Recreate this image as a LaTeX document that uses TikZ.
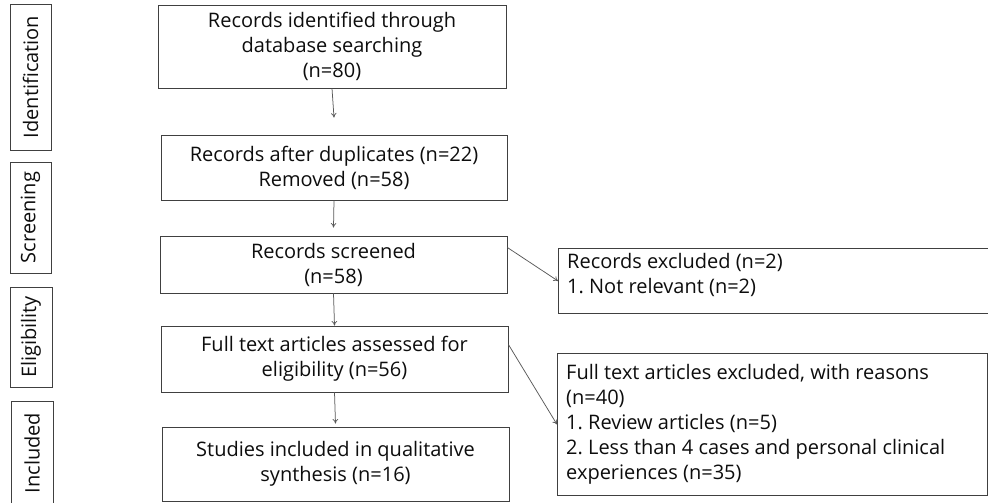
\documentclass[tikz,border=0pt]{standalone}
\usepackage{fontspec}
\setmainfont{Open Sans}
\frenchspacing
\usetikzlibrary{arrows.meta}
\begin{document}
\begin{tikzpicture}[x=1pt,y=-1pt,
  txt/.style={font=\fontsize{20}{25}\selectfont,text=black!95},
  box/.style={txt,draw=black!75,line width=0.9pt,inner sep=0pt,align=center},
  rbox/.style={draw=black!75,line width=0.9pt,inner sep=0pt,anchor=north west},
  rtxt/.style={txt,anchor=north west,align=left,inner sep=0pt},
  lab/.style={txt,draw=black!75,line width=0.9pt,inner sep=0pt,rotate=90},
  arr/.style={draw=black!65,line width=0.75pt,-{To[length=4.5pt,width=5.5pt]}}]
\useasboundingbox (0,0) rectangle (988,503);
% left stage labels
\node[lab,minimum width=146pt,minimum height=41pt] (lid) at (30.5,77) {Identification};
\node[lab,minimum width=111pt,minimum height=41pt] (lsc) at (30.5,217.5) {Screening};
\node[lab,minimum width=100pt,minimum height=42pt] (lel) at (31,337) {Eligibility};
\node[lab,minimum width=104pt,minimum height=42pt] (lin) at (32,453) {Included};
% main boxes
\node[box,minimum width=348pt,minimum height=83pt] (b1) at (332,46.5)
  {Records identified through\\database searching\\(n=80)};
\node[box,minimum width=346pt,minimum height=65pt] (b2) at (334,167.5)
  {Records after duplicates (n=22)\\Removed (n=58)};
\node[box,minimum width=347pt,minimum height=57pt] (b3) at (333.5,264.5)
  {Records screened\\(n=58)};
\node[box,minimum width=347pt,minimum height=66pt] (b4) at (334.5,359)
  {Full text articles assessed for\\eligibility (n=56)};
\node[box,minimum width=347pt,minimum height=74pt] (b5) at (335.5,464)
  {Studies included in qualitative\\synthesis (n=16)};
% right boxes
\node[rbox,minimum width=430pt,minimum height=65pt] (r1) at (558,248) {};
\node[rtxt] (t1) at (567,253)
  {Records excluded (n=2)\\1. Not relevant (n=2)};
\node[rbox,minimum width=430pt,minimum height=142pt] (r2) at (557,353) {};
\node[rtxt] (t2) at (566,364)
  {Full text articles excluded, with reasons\\(n=40)\\1. Review articles (n=5)\\2. Less than 4 cases and personal clinical\\experiences (n=35)};
% connectors
\draw[arr] (b1.south) -- ([yshift=17pt]b2.north);
\draw[arr] (b2.south) -- ([yshift=8pt]b3.north);
\draw[arr] (b3.south) -- (b4.north);
\draw[arr] (b4.south) -- ([yshift=3pt]b5.north);
\draw[arr] ([yshift=-12pt]b3.north east) -- (r1.west);
\draw[arr] ([yshift=-19pt]b4.north east) -- (r2.west);
\end{tikzpicture}
\end{document}
